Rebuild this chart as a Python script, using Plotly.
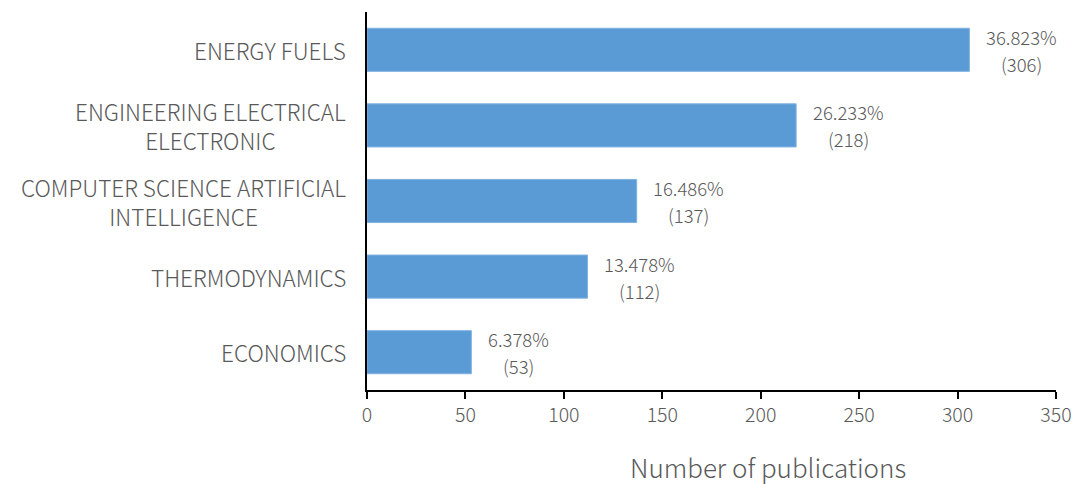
import plotly.graph_objects as go

categories = ["ENERGY FUELS", "ENGINEERING ELECTRICAL<br>ELECTRONIC",
              "COMPUTER SCIENCE ARTIFICIAL<br>INTELLIGENCE", "THERMODYNAMICS", "ECONOMICS"]
counts = [306, 218, 137, 112, 53]
percents = ["36.823%", "26.233%", "16.486%", "13.478%", "6.378%"]
x_ticks = [0, 50, 100, 150, 200, 250, 300, 350]

FONT = "Noto Sans CJK SC"
GRAY = "#595959"

fig = go.Figure()
fig.add_trace(go.Bar(
    x=counts, y=categories, orientation="h",
    marker=dict(color="#5B9BD5", line=dict(color="#7FB2E0", width=1)),
    width=0.57, hoverinfo="skip",
))

ann = []
for c, v, p in zip(categories, counts, percents):
    ann.append(dict(x=0, xref="paper", y=c, yref="y", text=c, showarrow=False,
                    xanchor="right", xshift=-19, align="center",
                    font=dict(family=FONT, size=22.5, color=GRAY, weight=300)))
    half = len(p) * 10.3 / 2
    ann.append(dict(x=v, xref="x", y=c, yref="y", text=p, showarrow=False,
                    xanchor="center", xshift=16 + half, yshift=13,
                    font=dict(family=FONT, size=18.5, color=GRAY, weight=300)))
    ann.append(dict(x=v, xref="x", y=c, yref="y", text="(%d)" % v, showarrow=False,
                    xanchor="center", xshift=16 + half, yshift=-14,
                    font=dict(family=FONT, size=18.5, color=GRAY, weight=300)))

ann.append(dict(x=0.582, xref="paper", y=0, yref="paper", text="Number of publications",
                showarrow=False, xanchor="center", yanchor="middle", yshift=-76,
                font=dict(family=FONT, size=26, color=GRAY, weight=300)))

fig.update_layout(
    width=1078, height=484,
    margin=dict(l=367, r=22, t=12, b=94),
    plot_bgcolor="white", paper_bgcolor="white",
    showlegend=False,
    annotations=ann,
    xaxis=dict(range=[0, 350], tickvals=x_ticks, showgrid=False, zeroline=False,
               automargin=False,
               showline=True, linecolor="black", linewidth=1.5,
               ticks="outside", ticklen=7, tickcolor="black", tickwidth=1.5,
               tickfont=dict(family=FONT, size=19.5, color=GRAY, weight=300)),
    yaxis=dict(categoryorder="array", categoryarray=categories, autorange="reversed",
               automargin=False,
               showticklabels=False, showgrid=False, zeroline=False,
               showline=True, linecolor="black", linewidth=1.5, ticks=""),
)

fig.write_html("out.html", config={"displayModeBar": False},
               post_script="document.body.style.margin='0';document.body.style.overflow='hidden';")
